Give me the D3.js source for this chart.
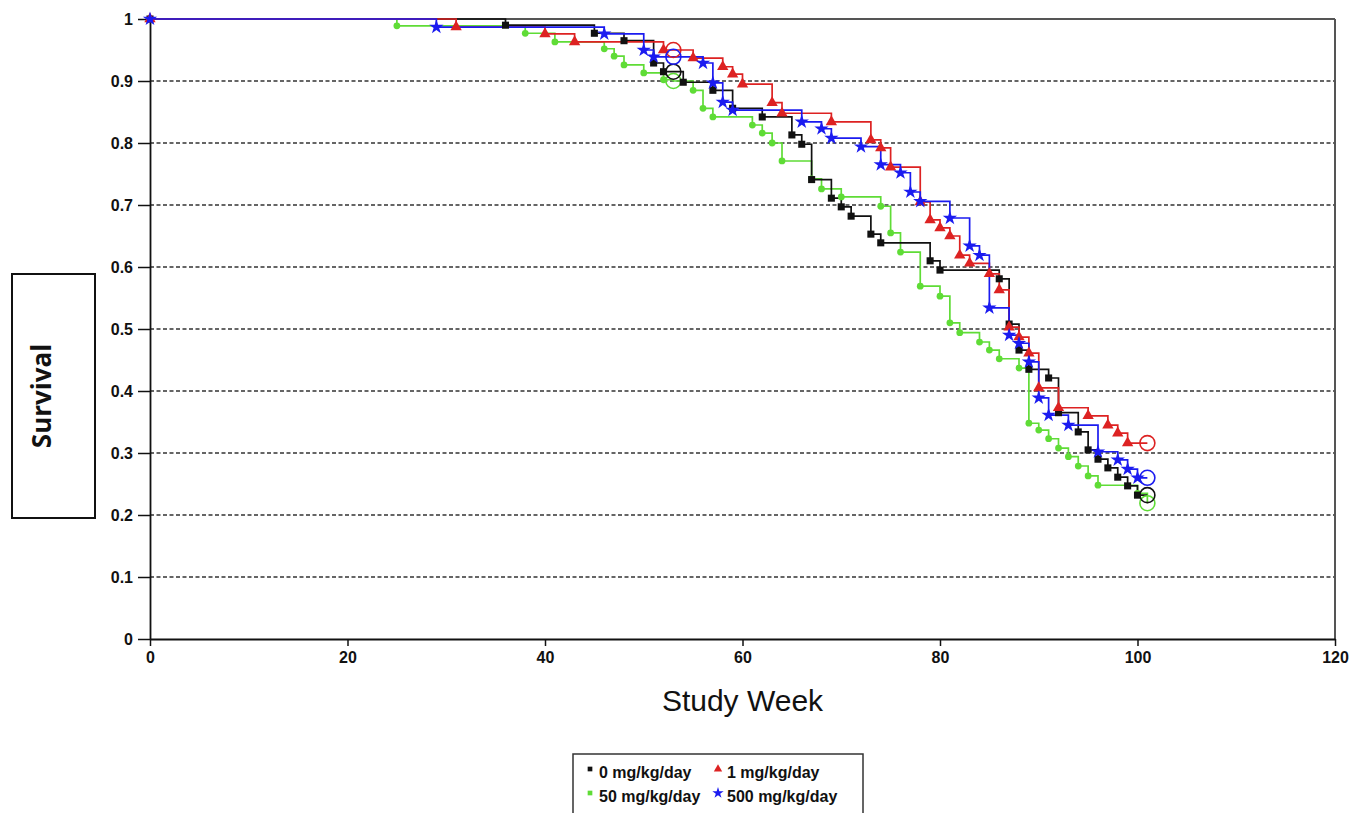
<!DOCTYPE html>
<html lang="en">
<head>
<meta charset="UTF-8">
<script src="https://d3js.org/d3.v7.min.js"></script>
<title>Survival by dose</title>
<style>
  body { margin: 0; background: #fff; }
</style>
</head>
<body>
<div id="Area"></div>
<script>
// week of each death step, and survival after the step
const week0 = [0,36,45,48,51,52,54,57,59,62,65,66,67,69,70,71,73,74,79,80,86,87,88,89,91,92,94,95,96,97,98,99,100];
const surv0 = [1,0.990,0.977,0.965,0.929,0.915,0.898,0.885,0.856,0.842,0.813,0.798,0.741,0.711,0.697,0.682,0.653,0.639,0.610,0.595,0.581,0.508,0.466,0.435,0.421,0.365,0.334,0.305,0.290,0.276,0.261,0.247,0.232];

const week1 = [0,31,40,43,52,55,58,59,60,63,64,69,73,74,75,78,79,80,81,82,83,85,86,87,88,89,90,92,95,97,98,99];
const surv1 = [1,0.987,0.976,0.963,0.950,0.937,0.923,0.911,0.895,0.865,0.848,0.834,0.805,0.792,0.761,0.705,0.676,0.663,0.650,0.619,0.606,0.589,0.563,0.503,0.487,0.461,0.405,0.373,0.360,0.345,0.332,0.316];

const week50 = [0,25,38,41,46,47,48,50,52,55,56,57,61,62,63,64,67,68,70,74,75,76,78,80,81,82,84,85,86,88,89,90,91,92,93,94,95,96,100];
const surv50 = [1,0.989,0.977,0.963,0.952,0.940,0.926,0.913,0.902,0.885,0.856,0.842,0.829,0.816,0.800,0.771,0.742,0.726,0.713,0.698,0.655,0.624,0.569,0.553,0.510,0.494,0.479,0.466,0.452,0.437,0.348,0.337,0.323,0.308,0.294,0.279,0.263,0.248,0.235];

const week500 = [0,29,46,50,51,56,57,58,59,66,68,69,72,74,76,77,78,81,83,84,85,87,88,89,90,91,93,96,98,99,100];
const surv500 = [1,0.987,0.976,0.950,0.939,0.929,0.897,0.866,0.853,0.834,0.823,0.808,0.794,0.765,0.752,0.721,0.706,0.679,0.634,0.619,0.534,0.490,0.477,0.447,0.389,0.361,0.345,0.302,0.289,0.274,0.260];

// censoring (open circles): interim at week 53, end of study at week 101
const censorWeek = [53, 101];
const censor0 = [0.915, 0.232];
const censor1 = [0.950, 0.316];
const censor50 = [0.900, 0.219];
const censor500 = [0.939, 0.260];

const xTicks = [0, 20, 40, 60, 80, 100, 120];
const yTicks = [0, 0.1, 0.2, 0.3, 0.4, 0.5, 0.6, 0.7, 0.8, 0.9, 1];
const gridTicks = [0.1, 0.2, 0.3, 0.4, 0.5, 0.6, 0.7, 0.8, 0.9];

// draw order: green, black, red, blue on top
const groups = [
  {label: "50 mg/kg/day", weeks: week50, surv: surv50, cens: censor50, color: "#5fdc36", sym: d3.symbolCircle, size: 36},
  {label: "0 mg/kg/day", weeks: week0, surv: surv0, cens: censor0, color: "#111111", sym: d3.symbolSquare, size: 50},
  {label: "1 mg/kg/day", weeks: week1, surv: surv1, cens: censor1, color: "#dd2222", sym: d3.symbolTriangle, size: 56},
  {label: "500 mg/kg/day", weeks: week500, surv: surv500, cens: censor500, color: "#1b1bf0", sym: d3.symbolStar, size: 64}
];

const margin = {top: 19, right: 18, bottom: 174, left: 150};
const width = 1353 - margin.left - margin.right;
const height = 813 - margin.top - margin.bottom;

const svg = d3.select("#Area")
  .append("svg")
    .attr("width", 1353)
    .attr("height", 813);
const g = svg.append("g")
    .attr("transform", "translate(" + margin.left + "," + margin.top + ")");

const x = d3.scaleLinear().domain([0, 120]).range([0, width]);
const y = d3.scaleLinear().domain([0, 1]).range([height, 0]);

// dashed grid lines
g.selectAll(".grid")
  .data(gridTicks)
  .enter()
  .append("line")
    .attr("x1", 0)
    .attr("x2", width)
    .attr("y1", d => y(d))
    .attr("y2", d => y(d))
    .attr("stroke", "#333")
    .attr("stroke-width", 1.6)
    .attr("stroke-dasharray", "4,2.5");

// frame top and right
g.append("line")
  .attr("x1", 0).attr("x2", width).attr("y1", y(1)).attr("y2", y(1))
  .attr("stroke", "#555").attr("stroke-width", 2);
g.append("line")
  .attr("x1", width).attr("x2", width).attr("y1", y(1)).attr("y2", y(0))
  .attr("stroke", "#555").attr("stroke-width", 2);

// axes
const yAxis = g.append("g")
  .call(d3.axisLeft(y).tickValues(yTicks).tickSize(12).tickSizeOuter(0).tickPadding(5)
    .tickFormat(d => (d === 0 || d === 1) ? String(d) : d.toFixed(1)));
const xAxis = g.append("g")
  .attr("transform", "translate(0," + height + ")")
  .call(d3.axisBottom(x).tickValues(xTicks).tickSize(7).tickSizeOuter(0).tickPadding(6));

[yAxis, xAxis].forEach(a => {
  a.select(".domain").attr("stroke", "#111").attr("stroke-width", 1.8);
  a.selectAll(".tick line").attr("stroke", "#111").attr("stroke-width", 1.5);
  a.selectAll("text")
    .attr("fill", "#111")
    .style("font-family", "'Liberation Sans', Arial, sans-serif")
    .style("font-weight", "bold")
    .style("font-size", "16px");
});

// step curves
const line = d3.line()
  .x(d => x(d.w))
  .y(d => y(d.s))
  .curve(d3.curveStepAfter);

groups.forEach(grp => {
  const ev = grp.weeks.map((w, i) => ({w: w, s: grp.surv[i]}));
  const cs = censorWeek.map((w, i) => ({w: w, s: grp.cens[i]}));
  const pts = ev.concat(cs).sort((a, b) => a.w - b.w);
  grp.ev = ev;
  grp.cs = cs;
  g.append("path")
    .datum(pts)
    .attr("fill", "none")
    .attr("stroke", grp.color)
    .attr("stroke-width", 1.7)
    .attr("d", line);
});

groups.forEach(grp => {
  g.selectAll(null)
    .data(grp.ev)
    .enter()
    .append("path")
      .attr("transform", d => "translate(" + x(d.w) + "," + y(d.s) + ")")
      .attr("d", d3.symbol().type(grp.sym).size(grp.size))
      .attr("fill", grp.color);
  g.selectAll(null)
    .data(grp.cs)
    .enter()
    .append("circle")
      .attr("cx", d => x(d.w))
      .attr("cy", d => y(d.s))
      .attr("r", 7.5)
      .attr("fill", "none")
      .attr("stroke", grp.color)
      .attr("stroke-width", 1.6);
});

// axis titles
svg.append("text")
  .attr("x", margin.left + width / 2)
  .attr("y", 711)
  .attr("text-anchor", "middle")
  .style("font-family", "'Liberation Sans', Arial, sans-serif")
  .style("font-size", "30px")
  .attr("fill", "#111")
  .text("Study Week");

svg.append("rect")
  .attr("x", 12).attr("y", 274).attr("width", 83).attr("height", 244)
  .attr("fill", "none").attr("stroke", "#111").attr("stroke-width", 2);
svg.append("text")
  .attr("transform", "translate(51,396) rotate(-90)")
  .attr("text-anchor", "middle")
  .style("font-family", "'Open Sans', sans-serif")
  .style("font-weight", "bold")
  .style("font-size", "26px")
  .attr("fill", "#111")
  .text("Survival");

// legend
const legend = svg.append("g");
legend.append("rect")
  .attr("x", 573).attr("y", 754).attr("width", 290).attr("height", 70)
  .attr("fill", "#fff").attr("stroke", "#333").attr("stroke-width", 1.5);
const legendOrder = [groups[1], groups[2], groups[0], groups[3]];
const legendSym = [d3.symbolSquare, d3.symbolTriangle, d3.symbolSquare, d3.symbolStar];
const legendSize = [22, 30, 22, 40];
legendOrder.forEach((grp, i) => {
  const lx = i % 2 === 0 ? 590 : 718;
  const ly = i < 2 ? 772 : 796;
  legend.append("path")
    .attr("transform", "translate(" + lx + "," + (ly - 3) + ")")
    .attr("d", d3.symbol().type(legendSym[i]).size(legendSize[i]))
    .attr("fill", grp.color);
  legend.append("text")
    .attr("x", lx + 9)
    .attr("y", ly + 6)
    .style("font-family", "'Liberation Sans', Arial, sans-serif")
    .style("font-weight", "bold")
    .style("font-size", "16px")
    .attr("fill", "#111")
    .text(grp.label);
});
</script>
</body>
</html>
